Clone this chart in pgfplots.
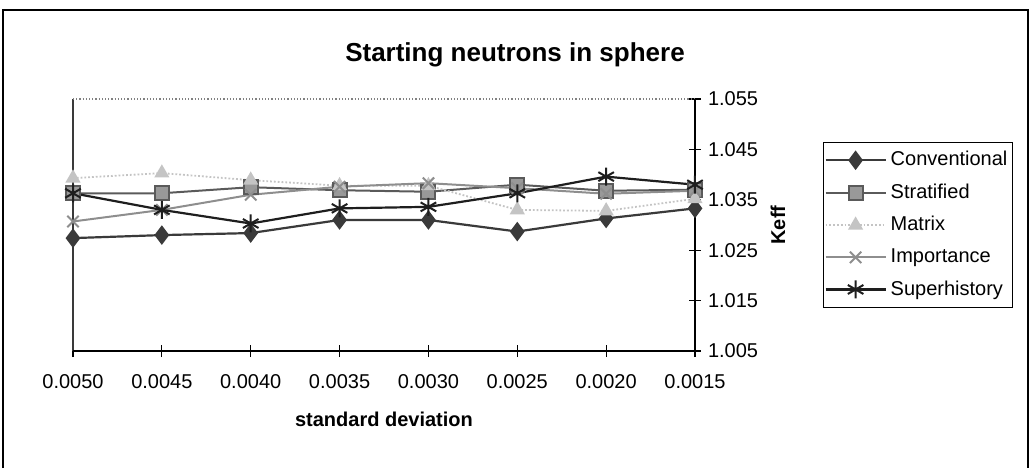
\documentclass[border=0pt]{standalone}
\usepackage{fontspec}
\setmainfont{Liberation Sans}
\usepackage{pgfplots}
\pgfplotsset{compat=1.18}
\usetikzlibrary{plotmarks}
\definecolor{conv}{HTML}{3A3A3A}
\definecolor{strat}{HTML}{5A5A5A}
\definecolor{stratfill}{HTML}{999999}
\definecolor{matr}{HTML}{C4C4C4}
\definecolor{impo}{HTML}{8E8E8E}
\definecolor{super}{HTML}{1E1E1E}
\begin{document}
\begin{tikzpicture}
\useasboundingbox (0,0) rectangle (515.5pt,234pt);
\draw[black, line width=0.6pt] (1.5pt,0pt) -- (1.5pt,229pt) -- (514pt,229pt) -- (514pt,0pt);
\node[font=\fontsize{13}{15}\selectfont\bfseries] at (257.5pt,206.5pt) {Starting neutrons in sphere};
\begin{axis}[
  at={(36.5pt,58.5pt)}, anchor=south west,
  scale only axis, width=311pt, height=126pt,
  xmin=0, xmax=7, ymin=1.005, ymax=1.055,
  xtick={0,...,7},
  xticklabels={0.0050,0.0045,0.0040,0.0035,0.0030,0.0025,0.0020,0.0015},
  ytick={1.005,1.015,1.025,1.035,1.045,1.055},
  yticklabel pos=right, xtick pos=lower, ytick pos=right,
  yticklabel style={/pgf/number format/.cd, fixed, fixed zerofill, precision=3},
  xticklabel style={yshift=-5pt},
  /pgf/number format/assume math mode=true,
  tick align=center, major tick length=6pt,
  tick style={black, line width=0.6pt},
  axis line style={draw=none},
  ticklabel style={font=\fontsize{10}{12}\selectfont},
  xlabel={standard deviation}, ylabel={Keff},
  label style={font=\fontsize{10}{12}\selectfont\bfseries},
  xlabel style={at={(axis description cs:0.5,0)}, anchor=center, yshift=-34pt},
  ylabel style={at={(axis description cs:1.1334,0.5)}, anchor=center},
  clip=false,
  legend style={at={(1.2058,0.8294)}, anchor=north west, draw=black, line width=0.5pt,
    font=\fontsize{10}{12}\selectfont, cells={anchor=west}, inner xsep=0.5pt, inner ysep=2.5pt, row sep=3.5pt},
  legend image code/.code={\draw[mark repeat=2,mark phase=2] plot coordinates {(0pt,0pt) (15pt,0pt) (30pt,0pt)};},
]
\draw[conv, line width=0.6pt] (rel axis cs:0,0) -- (rel axis cs:0,1);
\draw[gray, densely dotted, line width=0.6pt] (rel axis cs:0,1) -- (rel axis cs:1,1);
\draw[black, line width=0.8pt] (rel axis cs:0,0) -- (rel axis cs:1,0) -- (rel axis cs:1,1);

\addplot[conv, line width=1.1pt, mark=diamond*, mark size=4pt, mark options={fill=conv, solid}]
  coordinates {(0,1.0274) (1,1.0280) (2,1.0284) (3,1.0310) (4,1.0310) (5,1.0287) (6,1.0313) (7,1.0333)};
\addlegendentry{Conventional}
\addplot[strat, line width=1.0pt, mark=square*, mark size=3.5pt, mark options={fill=stratfill, draw=strat, solid}]
  coordinates {(0,1.0363) (1,1.0363) (2,1.0375) (3,1.0369) (4,1.0366) (5,1.0380) (6,1.0368) (7,1.0370)};
\addlegendentry{Stratified}
\addplot[matr, line width=0.9pt, densely dotted, mark=triangle*, mark size=3.5pt, mark options={fill=matr, draw=matr, solid}]
  coordinates {(0,1.0393) (1,1.0403) (2,1.0389) (3,1.0378) (4,1.0378) (5,1.0330) (6,1.0328) (7,1.0352)};
\addlegendentry{Matrix}
\addplot[impo, line width=1.0pt, mark=x, mark size=4pt, mark options={draw=impo, solid, line width=1pt}]
  coordinates {(0,1.0307) (1,1.0330) (2,1.0360) (3,1.0376) (4,1.0383) (5,1.0373) (6,1.0362) (7,1.0368)};
\addlegendentry{Importance}
\addplot[super, line width=1.1pt, mark=asterisk, mark size=4.5pt, mark options={draw=super, solid, line width=1pt}]
  coordinates {(0,1.0363) (1,1.0330) (2,1.0303) (3,1.0333) (4,1.0336) (5,1.0363) (6,1.0396) (7,1.0380)};
\addlegendentry{Superhistory}
\end{axis}
\end{tikzpicture}
\end{document}
